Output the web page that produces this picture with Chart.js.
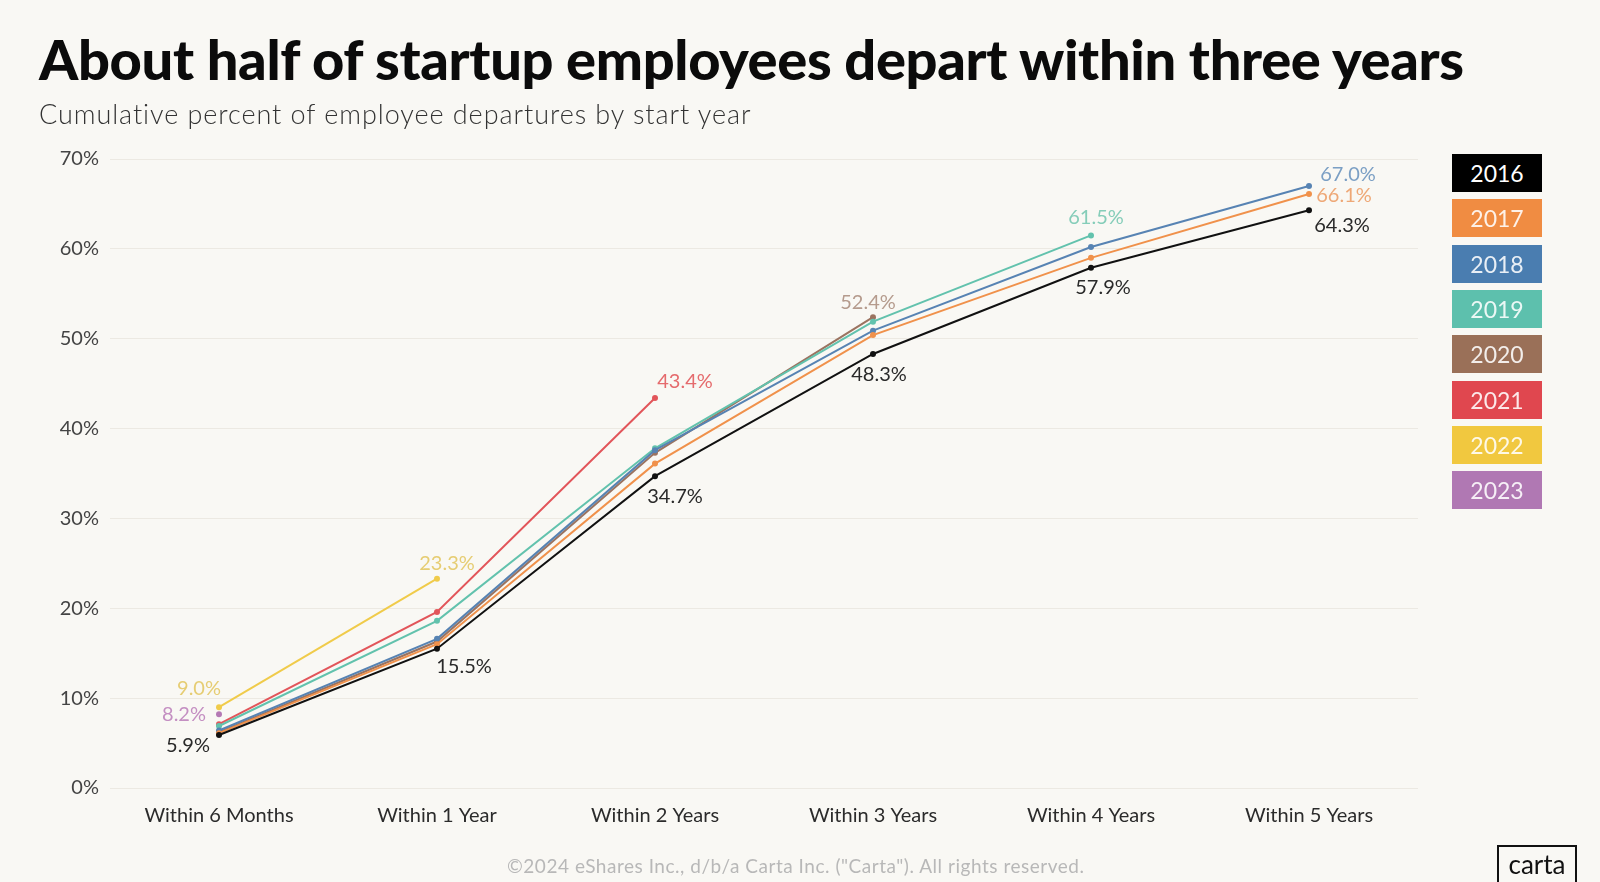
<!DOCTYPE html>
<html>
<head>
<meta charset="utf-8">
<script src="https://cdn.jsdelivr.net/npm/chart.js@4.4.1/dist/chart.umd.min.js"></script>
<style>
    html, body { margin: 0; padding: 0; background: #f9f8f4; }
    #wrap { position: relative; width: 1600px; height: 882px; overflow: hidden; font-family: Lato, sans-serif; }
    #chart { position: absolute; left: 0; top: 0; }
    #title { position: absolute; left: 39px; top: 31px; font-size: 56px; font-weight: 900; line-height: 1; white-space: nowrap; color: #0b0b0b; }
    #subtitle { position: absolute; left: 39px; top: 100px; font-size: 27px; font-weight: 300; line-height: 1; white-space: nowrap; color: #333; }
    .leg { position: absolute; left: 1452px; width: 90px; height: 38px; line-height: 38px; text-align: center; font-size: 23px; color: rgba(255,255,255,0.88); }
    #footer { position: absolute; left: 507px; top: 856px; font-size: 19px; line-height: 1; white-space: nowrap; color: #b8b8b8; }
    #logo { position: absolute; left: 1497px; top: 845px; width: 80px; height: 42px; box-sizing: border-box; border: 2px solid #111; font-size: 26px; line-height: 34px; text-align: center; color: #111; }
</style>
</head>
<body>
<div id="wrap">
    <canvas id="chart" width="1600" height="882"></canvas>
    <div id="title">About half of startup employees depart within three years</div>
    <div id="subtitle">Cumulative percent of employee departures by start year</div>
    <div id="legend"></div>
    <div id="footer">©2024 eShares Inc., d/b/a Carta Inc. ("Carta"). All rights reserved.</div>
    <div id="logo">carta</div>
</div>
<script>
// categories + one array per start year (null = no data yet)
const categories = ['Within 6 Months', 'Within 1 Year', 'Within 2 Years', 'Within 3 Years', 'Within 4 Years', 'Within 5 Years'];
const startYears = ['2016', '2017', '2018', '2019', '2020', '2021', '2022', '2023'];

const y2016 = [5.9, 15.5, 34.7, 48.3, 57.9, 64.3];
const y2017 = [6.1, 16.0, 36.1, 50.4, 59.0, 66.1];
const y2018 = [6.4, 16.6, 37.6, 50.9, 60.2, 67.0];
const y2019 = [6.9, 18.6, 37.8, 51.9, 61.5, null];
const y2020 = [6.2, 16.3, 37.3, 52.4, null, null];
const y2021 = [7.1, 19.6, 43.4, null, null, null];
const y2022 = [9.0, 23.3, null, null, null, null];
const y2023 = [8.2, null, null, null, null, null];

const yTicks = [0, 10, 20, 30, 40, 50, 60, 70];

const lineColors = ['#111111', '#f0914b', '#5783b3', '#62c2ad', '#9b7360', '#e2555a', '#f0cb4a', '#b479b4'];
const boxColors = ['#000000', '#f08c42', '#4a7db0', '#5dc0ad', '#9a7058', '#e0474f', '#f1c83f', '#b078b3'];
const labelColors = ['#2a2a2a', '#eea877', '#7b9fc4', '#85cdb9', '#b59b8d', '#e56b6d', '#e6cd73', '#c48fc2'];

const series = [y2016, y2017, y2018, y2019, y2020, y2021, y2022, y2023];

// which points carry a value label, and where the text sits relative to the point
const callouts = [
    { ds: 0, i: 0, dx: -31, dy: 11 },
    { ds: 0, i: 1, dx: 27, dy: 18 },
    { ds: 0, i: 2, dx: 20, dy: 20 },
    { ds: 0, i: 3, dx: 6, dy: 21 },
    { ds: 0, i: 4, dx: 12, dy: 20 },
    { ds: 0, i: 5, dx: 33, dy: 15 },
    { ds: 1, i: 5, dx: 35, dy: 2 },
    { ds: 2, i: 5, dx: 39, dy: -11 },
    { ds: 3, i: 4, dx: 5, dy: -18 },
    { ds: 4, i: 3, dx: -5, dy: -15 },
    { ds: 5, i: 2, dx: 30, dy: -16 },
    { ds: 6, i: 0, dx: -20, dy: -19 },
    { ds: 6, i: 1, dx: 10, dy: -15 },
    { ds: 7, i: 0, dx: -35, dy: 0 }
];

const valueLabels = {
    id: 'valueLabels',
    afterDatasetsDraw(chart) {
        const ctx = chart.ctx;
        ctx.save();
        ctx.font = '20px Lato, sans-serif';
        ctx.textAlign = 'center';
        ctx.textBaseline = 'middle';
        callouts.forEach(c => {
            const pt = chart.getDatasetMeta(c.ds).data[c.i];
            const v = chart.data.datasets[c.ds].data[c.i];
            ctx.fillStyle = labelColors[c.ds];
            ctx.fillText(v.toFixed(1) + '%', pt.x + c.dx, pt.y + c.dy);
        });
        ctx.restore();
    }
};

const ctx = document.getElementById('chart').getContext('2d');

const grafico = new Chart(ctx, {
    type: 'line',
    data: {
        labels: categories,
        datasets: series.map((d, k) => ({
            label: startYears[k],
            data: d,
            borderColor: lineColors[k],
            backgroundColor: lineColors[k],
            borderWidth: 2,
            pointRadius: 3,
            pointBorderWidth: 0,
            pointBackgroundColor: lineColors[k],
            tension: 0,
            fill: false,
            spanGaps: false
        }))
    },
    options: {
        responsive: false,
        animation: false,
        layout: {
            padding: { top: 159, right: 182, bottom: 54, left: 0 }
        },
        scales: {
            x: {
                offset: true,
                grid: { display: false },
                border: { display: false },
                ticks: {
                    color: '#2b2b2b',
                    padding: 8,
                    maxRotation: 0,
                    font: { size: 20, family: 'Lato' }
                },
                afterFit(s) { s.height = 40; }
            },
            y: {
                min: 0,
                max: 70,
                afterBuildTicks(s) { s.ticks = yTicks.map(v => ({ value: v })); },
                grid: { color: '#ece9e2', drawTicks: false, lineWidth: 1 },
                border: { display: false },
                ticks: {
                    color: '#444',
                    padding: 11,
                    font: { size: 20, family: 'Lato' },
                    callback: v => v + '%'
                },
                afterFit(s) { s.width = 110; }
            }
        },
        plugins: {
            legend: { display: false },
            tooltip: { enabled: false }
        }
    },
    plugins: [valueLabels]
});

// legend boxes on the right
const legend = document.getElementById('legend');
startYears.forEach((yr, k) => {
    const d = document.createElement('div');
    d.className = 'leg';
    d.style.top = (154 + k * 45.3) + 'px';
    d.style.background = boxColors[k];
    if (k === 0) d.style.color = '#fff';
    d.textContent = yr;
    legend.appendChild(d);
});

// squeeze heading text to the reference widths
function fitWidth(id, target) {
    const el = document.getElementById(id);
    const w = el.getBoundingClientRect().width;
    const n = el.textContent.length - 1;
    el.style.letterSpacing = ((target - w) / n) + 'px';
}
fitWidth('title', 1425);
fitWidth('subtitle', 712);
fitWidth('footer', 577);
</script>
</body>
</html>
